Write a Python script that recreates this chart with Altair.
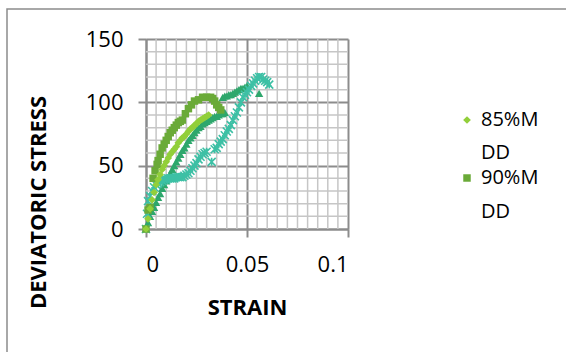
import altair as alt
import pandas as pd

# ---- data ----
strain_85 = [0, 0.001, 0.002, 0.003, 0.004, 0.005, 0.006, 0.007, 0.008, 0.009, 0.010,
             0.011, 0.012, 0.013, 0.014, 0.015, 0.016, 0.017, 0.018, 0.019, 0.020,
             0.021, 0.022, 0.023, 0.024, 0.025, 0.026, 0.027, 0.028, 0.029, 0.030, 0.031]
stress_85 = [0, 8, 16, 23, 29, 35, 39, 43, 47, 50, 53,
             56, 59, 61, 63, 65, 68, 70, 72, 73, 75,
             77, 79, 80, 82, 83, 85, 86, 87, 88, 89, 90]

strain_90 = [0, 0.001, 0.002, 0.0035, 0.0045, 0.0055, 0.006, 0.007, 0.008, 0.009, 0.010,
             0.011, 0.012, 0.013, 0.014, 0.015, 0.016, 0.017, 0.018, 0.0195, 0.021,
             0.0225, 0.024, 0.026, 0.028, 0.030, 0.032, 0.033, 0.034, 0.035, 0.036, 0.037]
stress_90 = [0, 15, 17, 40, 46, 51, 54, 59, 64, 67, 70,
             73, 76, 78, 80, 82, 84, 85, 86, 91, 95,
             98, 101, 102, 104, 104, 104, 103, 101, 98, 96, 94]

strain_95 = [0, 0.001, 0.002, 0.003, 0.004, 0.005, 0.006, 0.007, 0.008, 0.009, 0.010,
             0.011, 0.012, 0.013, 0.014, 0.015, 0.016, 0.017, 0.018, 0.019, 0.020,
             0.021, 0.022, 0.023, 0.024, 0.025, 0.026, 0.027, 0.028, 0.029, 0.030,
             0.031, 0.032, 0.033, 0.034, 0.035, 0.036, 0.037, 0.038, 0.039,
             0.038, 0.039, 0.040, 0.041, 0.042, 0.043, 0.044, 0.045, 0.046, 0.047,
             0.048, 0.049, 0.050, 0.056]
stress_95 = [0, 5, 10, 14, 17, 21, 25, 28, 32, 35, 38,
             41, 44, 47, 50, 53, 56, 59, 62, 64, 67,
             70, 72, 74, 76, 78, 80, 81, 83, 84, 85,
             86, 87, 88, 89, 89, 90, 91, 91, 92,
             104, 105, 105, 106, 106, 107, 108, 109, 110, 111,
             111, 112, 113, 107]

strain_100 = [0, 0.0005, 0.001, 0.002, 0.003, 0.004, 0.005, 0.006, 0.007, 0.008, 0.009,
              0.010, 0.011, 0.012, 0.013, 0.014, 0.015, 0.016, 0.017, 0.018, 0.019,
              0.020, 0.021, 0.022, 0.023, 0.024, 0.025, 0.026, 0.027, 0.028, 0.029,
              0.030, 0.0325, 0.034, 0.035, 0.036, 0.037, 0.038, 0.039, 0.040, 0.041,
              0.042, 0.043, 0.044, 0.045, 0.046, 0.047, 0.048, 0.049, 0.050, 0.051,
              0.052, 0.053, 0.054, 0.055, 0.056, 0.057, 0.058, 0.059, 0.060, 0.061]
stress_100 = [0, 12, 22, 26, 30, 33, 35, 36, 37, 38, 39,
              39, 40, 40, 40, 40, 41, 41, 41, 41, 42,
              43, 44, 46, 48, 50, 52, 55, 57, 59, 60,
              61, 53, 63, 64, 67, 69, 71, 74, 77, 79,
              82, 86, 89, 92, 96, 100, 104, 106, 108, 110,
              113, 115, 117, 119, 120, 120, 118, 117, 116, 114]

x_minor = [0.005, 0.01, 0.015, 0.02, 0.025, 0.03, 0.035, 0.04, 0.045,
           0.055, 0.06, 0.065, 0.07, 0.075, 0.08, 0.085, 0.09, 0.095]
y_minor = [10, 20, 30, 40, 60, 70, 80, 90, 110, 120, 130, 140]
x_ticks = [0, 0.05, 0.1]
y_ticks = [0, 50, 100, 150]

FONT = "Open Sans"
MAJOR = "#8C8C8C"
MINOR = "#C6C6C6"

xs = alt.Scale(domain=[0, 0.1], nice=False, zero=False)
ys = alt.Scale(domain=[0, 150], nice=False, zero=False)

x_axis = alt.Axis(values=x_ticks, format="~g", title="STRAIN",
                  titleFont=FONT, titleFontSize=22, titleFontWeight="bold", titleColor="#000000",
                  titleX=101, titleY=78, titleBaseline="middle", titleAlign="center",
                  labelFont=FONT, labelFontSize=22, labelColor="#000000", labelPadding=17,
                  grid=True, gridColor=MAJOR, gridWidth=2,
                  domainColor=MAJOR, domainWidth=2, tickColor=MAJOR, tickWidth=2, tickSize=8)
y_axis = alt.Axis(values=y_ticks, format="d", title="DEVIATORIC STRESS",
                  titleFont=FONT, titleFontSize=22, titleFontWeight="bold", titleColor="#000000",
                  titleX=-108, titleY=163, titleBaseline="middle", titleAlign="center", titleAngle=270,
                  labelFont=FONT, labelFontSize=22, labelColor="#000000", labelPadding=15,
                  grid=True, gridColor=MAJOR, gridWidth=2,
                  domainColor=MAJOR, domainWidth=2, tickColor=MAJOR, tickWidth=2, tickSize=8)


def frame(s, t):
    return pd.DataFrame({"strain": s, "stress": t})


vgrid = alt.Chart(pd.DataFrame({"strain": x_minor})).mark_rule(
    color=MINOR, strokeWidth=1.5).encode(x=alt.X("strain:Q", scale=xs, axis=x_axis))
hgrid = alt.Chart(pd.DataFrame({"stress": y_minor})).mark_rule(
    color=MINOR, strokeWidth=1.5).encode(y=alt.Y("stress:Q", scale=ys, axis=y_axis))


def pts(df, shape, color, size, filled=True, sw=0):
    kw = dict(shape=shape, size=size, opacity=1)
    if filled:
        kw.update(filled=True, color=color, strokeWidth=0)
    else:
        kw.update(filled=False, color=color, strokeWidth=sw)
    return alt.Chart(df).mark_point(**kw).encode(
        x=alt.X("strain:Q", scale=xs, axis=x_axis),
        y=alt.Y("stress:Q", scale=ys, axis=y_axis))


C85 = "#92CF3A"
C90 = "#6AAA38"
C95 = "#2EA76C"
C100 = "#3DC0A5"
XPATH = "M-1,-1L1,1M-1,1L1,-1M0,-1L0,1"

p95 = pts(frame(strain_95, stress_95), "triangle-up", C95, 70)
p90 = pts(frame(strain_90, stress_90), "square", C90, 56)
p85 = pts(frame(strain_85, stress_85), "diamond", C85, 60)
p100 = pts(frame(strain_100, stress_100), XPATH, C100, 64, filled=False, sw=1.6)

one = pd.DataFrame({"k": [0]})
border = alt.Chart(one).mark_rect(fillOpacity=0, stroke="#8C8C8C", strokeWidth=1.5).encode(
    x=alt.value(-139), x2=alt.value(440), y=alt.value(-30), y2=alt.value(340))

leg_sym85 = alt.Chart(one).mark_point(shape="diamond", filled=True, color=C85, size=60, opacity=1).encode(
    x=alt.value(321), y=alt.value(81))
leg_sym90 = alt.Chart(one).mark_point(shape="square", filled=True, color=C90, size=56, opacity=1).encode(
    x=alt.value(321), y=alt.value(139))


def ltext(t, y):
    return alt.Chart(one).mark_text(font=FONT, fontSize=20, align="left", baseline="middle",
                                    color="#000000").encode(
        x=alt.value(335), y=alt.value(y), text=alt.value(t))


chart = alt.layer(
    vgrid, hgrid, p95, p100, p90, p85, border,
    leg_sym85, leg_sym90,
    ltext("85%M", 81), ltext("DD", 114), ltext("90%M", 139), ltext("DD", 173),
).properties(
    width=202, height=190,
    autosize=alt.AutoSizeParams(type="none"),
    padding={"left": 146, "top": 39, "right": 218, "bottom": 123},
    background="#FFFFFF",
).configure_view(strokeWidth=0)

chart.save("out.html", embed_options={"renderer": "svg", "actions": False})
